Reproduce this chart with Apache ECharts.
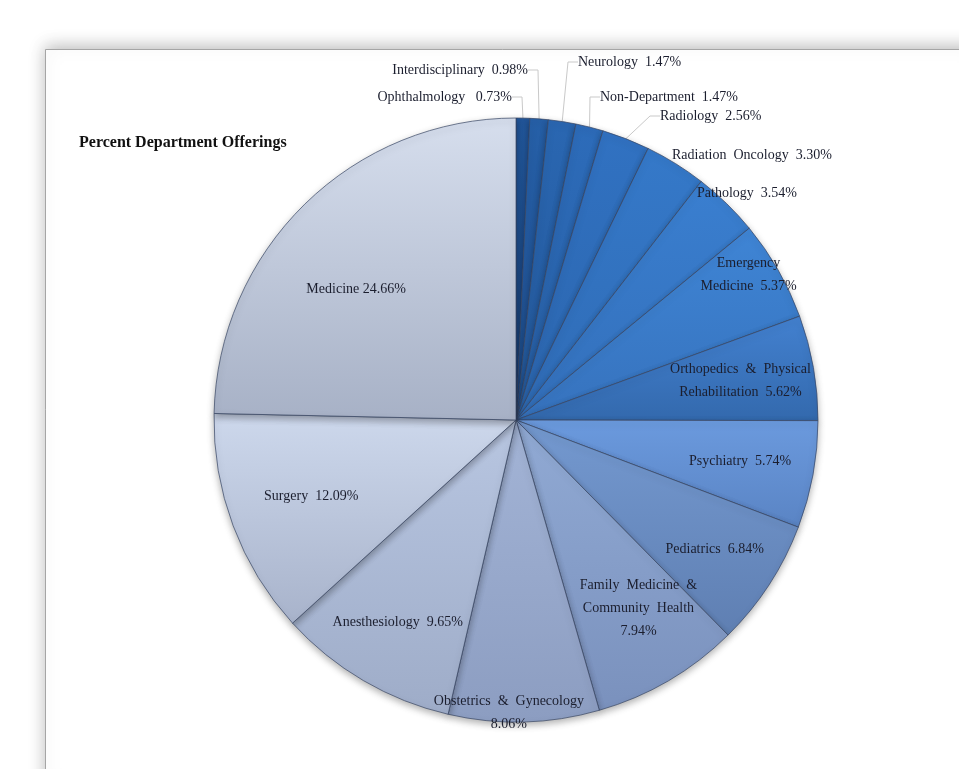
<!DOCTYPE html>
<html>
<head>
<meta charset="utf-8">
<script src="https://cdn.jsdelivr.net/npm/echarts@6/dist/echarts.min.js"></script>
<style>
html,body{margin:0;padding:0;background:#fff;}
#chart{width:959px;height:769px;}
</style>
</head>
<body>
<div id="chart"></div>
<script>
// ---- data ----
const categories = ['Ophthalmology','Interdisciplinary','Neurology','Non-Department','Radiology',
  'Radiation Oncology','Pathology','Emergency Medicine','Orthopedics & Physical Rehabilitation',
  'Psychiatry','Pediatrics','Family Medicine & Community Health','Obstetrics & Gynecology',
  'Anesthesiology','Surgery','Medicine'];
const values = [0.73,0.98,1.47,1.47,2.56,3.30,3.54,5.37,5.62,5.74,6.84,7.94,8.06,9.65,12.09,24.66];
const titleText = 'Percent Department Offerings';

// ---- styles ----
const topColors = ['#22579c','#2660a8','#2a67b2','#2d6cba','#3172c2','#3579c9','#3a7fd0','#3f85d5',
  '#4381d0','#6b9ade','#7499d0','#91aad4','#a3b4d6','#b8c6e1','#cdd8ec','#d6deed'];
const botColors = ['#1b4682','#1f4e8f','#235799','#275ea3','#2b65ad','#2f6bb5','#336fba','#3672bd',
  '#3369ad','#5a84c4','#5f7fb2','#7a91bd','#8c9dc1','#9eacc8','#a8b3cb','#a7b1c6'];
const labelTexts = ['Ophthalmology   0.73%','Interdisciplinary  0.98%','Neurology  1.47%','Non-Department  1.47%',
  'Radiology  2.56%','Radiation  Oncology  3.30%','Pathology  3.54%','Emergency\nMedicine  5.37%',
  'Orthopedics  &  Physical\nRehabilitation  5.62%','Psychiatry  5.74%','Pediatrics  6.84%',
  'Family  Medicine  &\nCommunity  Health\n7.94%','Obstetrics  &  Gynecology\n8.06%',
  'Anesthesiology  9.65%','Surgery  12.09%','Medicine 24.66%'];
// outer label anchors (pixel) for the small slices
const outerAnchors = {
  0:{x:512,y:97,align:'right',line:true}, 1:{x:528,y:70,align:'right',line:true},
  2:{x:578,y:62,align:'left',line:true}, 3:{x:600,y:97,align:'left',line:true},
  4:{x:660,y:116,align:'left',line:true}, 5:{x:672,y:155,align:'left',line:false},
  6:{x:697,y:193,align:'left',line:false}
};
// inner label: radius as fraction of pie radius, angular shift in degrees
const innerFactor = {7:0.89,8:0.74,9:0.74,10:0.77,11:0.73,12:0.95,13:0.76,14:0.71,15:0.67};
const innerShift = {7:-2.2,8:0,9:0,10:0,11:-2.7,12:2.9,13:0,14:0,15:-6.4};

const CX = 516, CY = 420, R = 302;
const FONT = '"Liberation Serif","Times New Roman",serif';

const data = categories.map((name, i) => {
  const outer = outerAnchors[i] !== undefined;
  return {
    name: name,
    value: values[i],
    itemStyle: {
      color: {type:'linear', x:0, y:0, x2:0, y2:1,
        colorStops:[{offset:0,color:topColors[i]},{offset:1,color:botColors[i]}]}
    },
    label: { position: outer ? 'outside' : 'inside' },
    labelLine: { show: outer && outerAnchors[i].line }
  };
});

const chart = echarts.init(document.getElementById('chart'), null, {renderer:'canvas'});
chart.setOption({
  animation: false,
  backgroundColor: '#ffffff',
  graphic: [
    {type:'rect', left:45, top:49, shape:{width:930, height:740},
     style:{fill:'#ffffff', stroke:'#a5a5a5', lineWidth:1,
            shadowBlur:16, shadowColor:'rgba(0,0,0,0.28)', shadowOffsetY:-3}, z:-10}
  ],
  title: {
    text: titleText, left: 74, top: 130,
    textStyle: {fontFamily: FONT, fontSize: 16, fontWeight: 'bold', color: '#111'}
  },
  series: [{
    type: 'pie',
    center: [CX, CY],
    radius: [0, R],
    startAngle: 90,
    clockwise: true,
    avoidLabelOverlap: false,
    data: data,
    itemStyle: {
      borderColor: 'rgba(55,70,100,0.7)', borderWidth: 1,
      shadowBlur: 7, shadowColor: 'rgba(0,0,0,0.30)', shadowOffsetY: 3
    },
    label: {
      show: true,
      formatter: p => labelTexts[p.dataIndex],
      fontFamily: FONT, fontSize: 14, color: '#1b1e2e', lineHeight: 23
    },
    labelLine: {
      show: true, length: 10, length2: 10,
      lineStyle: {color: '#c9c9c9', width: 1}
    },
    labelLayout: function (p) {
      const i = p.dataIndex;
      if (outerAnchors[i] !== undefined) {
        const a = outerAnchors[i];
        return {x: a.x, y: a.y, align: a.align, verticalAlign: 'middle'};
      }
      const lr = p.labelRect;
      const vx0 = lr.x + lr.width / 2 - CX, vy0 = lr.y + lr.height / 2 - CY;
      const k = innerFactor[i] / 0.5;
      const d = innerShift[i] * Math.PI / 180;
      const vx = (vx0 * Math.cos(d) - vy0 * Math.sin(d)) * k;
      const vy = (vx0 * Math.sin(d) + vy0 * Math.cos(d)) * k;
      return {x: CX + vx, y: CY + vy, align: 'center', verticalAlign: 'middle'};
    }
  }]
});
</script>
</body>
</html>
